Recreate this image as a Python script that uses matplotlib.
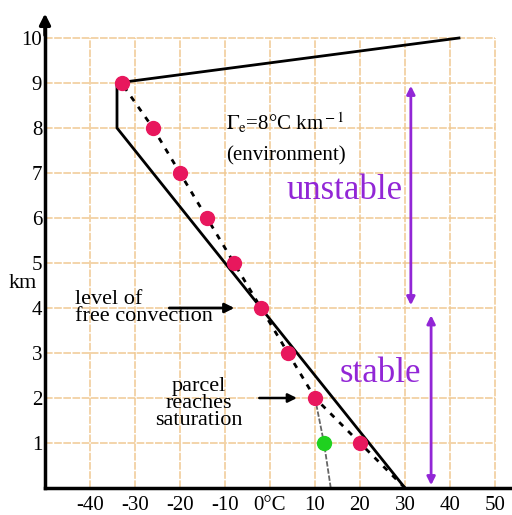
import numpy as np
import matplotlib
matplotlib.use("Agg")
import matplotlib.pyplot as plt

# Environment sounding (solid line)
env_temp = [30, -34, -34, 42]
env_alt = [0, 8, 9, 10]

# Rising parcel (dashed line + dots)
parcel_alt = [0, 1, 2, 3, 4, 5, 6, 7, 8, 9]
parcel_temp = [30, 20, 10, 4, -2, -8, -14, -20, -26, -33]

# Dew point of the parcel below saturation
dew_alt = [0, 1, 2]
dew_temp = [13.5, 12, 10]

x_ticks = [-40, -30, -20, -10, 0, 10, 20, 30, 40, 50]
x_labels = ["-40", "-30", "-20", "-10", "0°C", "10", "20", "30", "40", "50"]
y_ticks = [1, 2, 3, 4, 5, 6, 7, 8, 9, 10]

serif = "Liberation Serif"
purple = "#9226d6"
pink = "#e8175d"
gridc = "#f0c993"

fig = plt.figure(figsize=(5.12, 5.15), dpi=100)
ax = fig.add_axes([45 / 512, 1 - 488 / 515, 1 - 45 / 512, 475 / 515])
ax.set_xlim(-50, -50 + 467 / 4.5)
ax.set_ylim(0, 475 / 45)

# grid, stopping at 50 and 10 km
ax.hlines(y_ticks, -50, 50, color=gridc, lw=1.1, linestyle=(0, (5, 1)), zorder=0)
ax.vlines(x_ticks, 0, 10, color=gridc, lw=1.1, linestyle=(0, (5, 1)), zorder=0)

for s in ["top", "right"]:
    ax.spines[s].set_visible(False)
ax.spines["left"].set_linewidth(2.5)
ax.spines["bottom"].set_linewidth(2.5)
ax.spines["left"].set_bounds(0, 10.2)
ax.annotate("", xy=(-50, 475 / 45 + 0.05), xytext=(-50, 10.0),
            arrowprops=dict(arrowstyle="-|>", color="black", lw=2.5,
                            mutation_scale=16), annotation_clip=False)

ax.set_xticks(x_ticks)
ax.set_xticklabels(x_labels)
ax.set_yticks(y_ticks)
ax.tick_params(length=0, labelsize=15, pad=6)
for lab in ax.get_xticklabels() + ax.get_yticklabels():
    lab.set_fontfamily(serif)
ax.tick_params(axis="y", pad=2)

ax.text(-55, 4.55, "km", fontsize=16, family=serif, ha="center", va="center",
        clip_on=False)

# lines
ax.plot(env_temp, env_alt, color="black", lw=2, solid_joinstyle="miter")
ax.plot(parcel_temp, parcel_alt, color="black", lw=2, linestyle=(0, (2, 2.5)))
ax.plot(dew_temp, dew_alt, color="#666666", lw=1.3, linestyle=(0, (3, 1)))

ax.plot(parcel_temp[1:], parcel_alt[1:], "o", color=pink, ms=10, zorder=5)
ax.plot(dew_temp[1], dew_alt[1], "o", color="#1fd11f", ms=10, zorder=5)

# annotations
ax.text(3.5, 8.1, r"$\Gamma_{\rm e}$=8°C km$^{\rm -1}$", fontsize=15, family=serif,
        ha="center", va="center", math_fontfamily="stix")
ax.text(3.5, 7.38, "(environment)", fontsize=15, family=serif, ha="center", va="center")
ax.text(16.5, 6.6, "unstable", fontsize=25, family=serif, color=purple,
        ha="center", va="center")
ax.text(24.5, 2.55, "stable", fontsize=25, family=serif, color=purple,
        ha="center", va="center")

ax.annotate("", xy=(31.3, 9.0), xytext=(31.3, 4.0),
            arrowprops=dict(arrowstyle="<|-|>", color=purple, lw=2, mutation_scale=12))
ax.annotate("", xy=(35.8, 3.9), xytext=(35.8, 0.0),
            arrowprops=dict(arrowstyle="<|-|>", color=purple, lw=2, mutation_scale=12))

ax.text(-43.3, 4.0, "level of\nfree convection", fontsize=16, family=serif,
        ha="left", va="center", linespacing=0.85)
ax.annotate("", xy=(-7.3, 4.0), xytext=(-23, 4.0),
            arrowprops=dict(arrowstyle="-|>", color="black", lw=2, mutation_scale=14))

ax.text(-15.8, 1.87, "parcel\nreaches\nsaturation", fontsize=16, family=serif,
        ha="center", va="center", linespacing=0.85)
ax.annotate("", xy=(6.6, 2.0), xytext=(-3, 2.0),
            arrowprops=dict(arrowstyle="-|>", color="black", lw=1.8, mutation_scale=13))

fig.savefig("out.png", dpi=100)
